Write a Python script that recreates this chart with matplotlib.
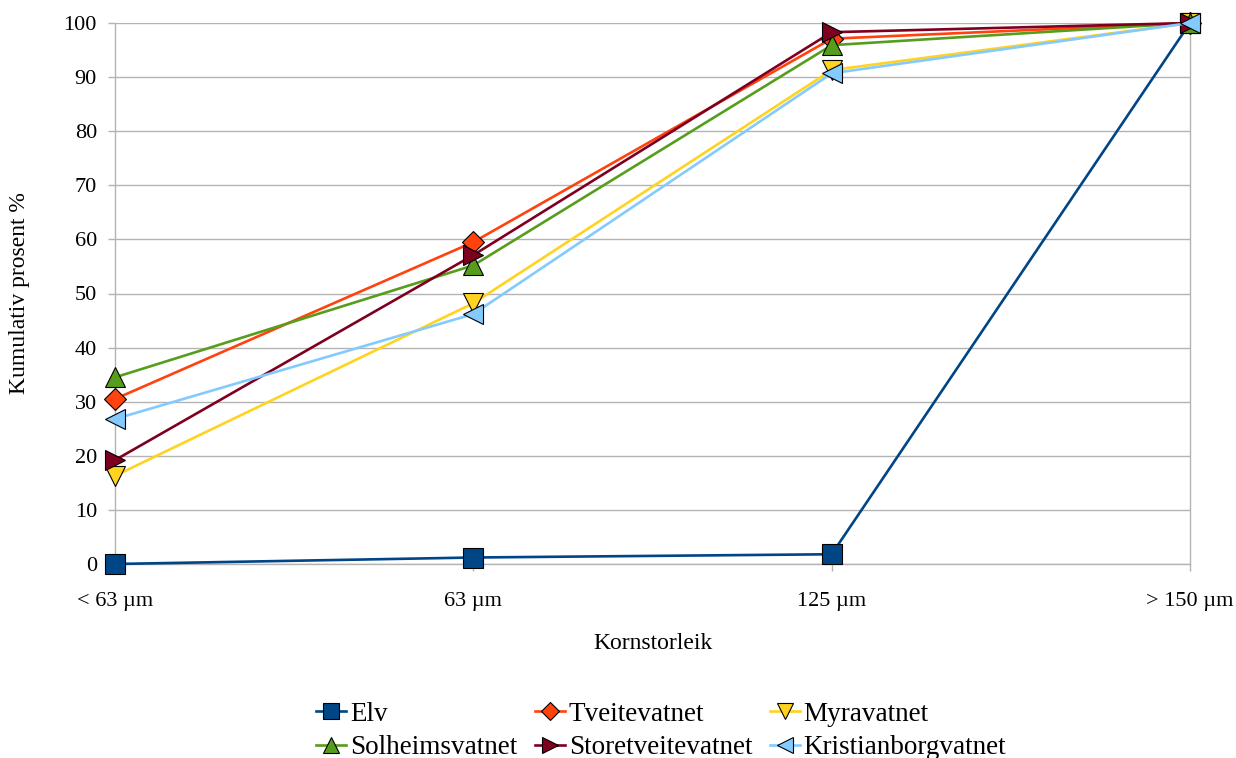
import numpy as np
import matplotlib.pyplot as plt

plt.rcParams['font.family'] = ['Liberation Serif', 'DejaVu Serif']

# Kornstorleik-klassar
kategoriar = ['< 63 µm', '63 µm', '125 µm', '> 150 µm']

# Kumulativ prosent for kvar prøvestad
elv = [0.0, 1.2, 1.8, 100.0]
tveitevatnet = [30.5, 59.5, 97.1, 100.0]
myravatnet = [16.3, 48.2, 91.3, 100.0]
solheimsvatnet = [34.5, 55.2, 95.9, 100.0]
storetveitevatnet = [19.2, 57.1, 98.3, 100.0]
kristianborgvatnet = [26.8, 46.2, 90.7, 100.0]

serier = [
    ('Elv', elv, '#004586', 's', 14),
    ('Tveitevatnet', tveitevatnet, '#ff420e', 'D', 11),
    ('Myravatnet', myravatnet, '#ffd320', 'v', 15),
    ('Solheimsvatnet', solheimsvatnet, '#579d1c', '^', 15),
    ('Storetveitevatnet', storetveitevatnet, '#7e0021', '>', 15),
    ('Kristianborgvatnet', kristianborgvatnet, '#83caff', '<', 15),
]

fig = plt.figure(figsize=(12.36, 7.58), dpi=100)
ax = fig.add_axes([115/1236, 1 - 564/758, (1190 - 115)/1236, (564 - 23)/758])

x = np.arange(len(kategoriar))
linjer = []
for namn, verdiar, farge, markor, ms in serier:
    l, = ax.plot(x, verdiar, color=farge, lw=1.9, marker=markor, markersize=ms,
                 markerfacecolor=farge, markeredgecolor='black', markeredgewidth=0.8,
                 label=namn, clip_on=False, zorder=3)
    linjer.append(l)

ax.set_xlim(0, 3)
ax.set_ylim(0, 100)
ax.set_yticks(np.arange(0, 101, 10))
ax.set_xticks(x)
ax.set_xticklabels(kategoriar)
ax.yaxis.grid(True, color='#b3b3b3', lw=1.0)
ax.set_axisbelow(True)

for side in ['left', 'right', 'bottom']:
    ax.spines[side].set_color('#b3b3b3')
    ax.spines[side].set_linewidth(1.0)
ax.spines['top'].set_visible(False)
ax.tick_params(axis='both', colors='#b3b3b3', length=5, width=1.0,
               labelcolor='black', labelsize=16)
ax.tick_params(axis='x', pad=15)
ax.tick_params(axis='y', pad=8)

ax.set_xlabel('Kornstorleik', fontsize=17, labelpad=16)
ax.set_ylabel('Kumulativ prosent %', fontsize=17, labelpad=24)

# legenda i to rader, fylt radvis
rekkjefylgje = [0, 3, 1, 4, 2, 5]
fig.legend([linjer[i] for i in rekkjefylgje], [serier[i][0] for i in rekkjefylgje],
           loc='center', bbox_to_anchor=(0.535, 1 - 731/758), ncol=3,
           frameon=False, fontsize=19.5, handlelength=1.1, handletextpad=0.15,
           columnspacing=0.65, labelspacing=0.3, markerscale=0.8,
           borderpad=0.0)

fig.savefig('out.png', dpi=100)
